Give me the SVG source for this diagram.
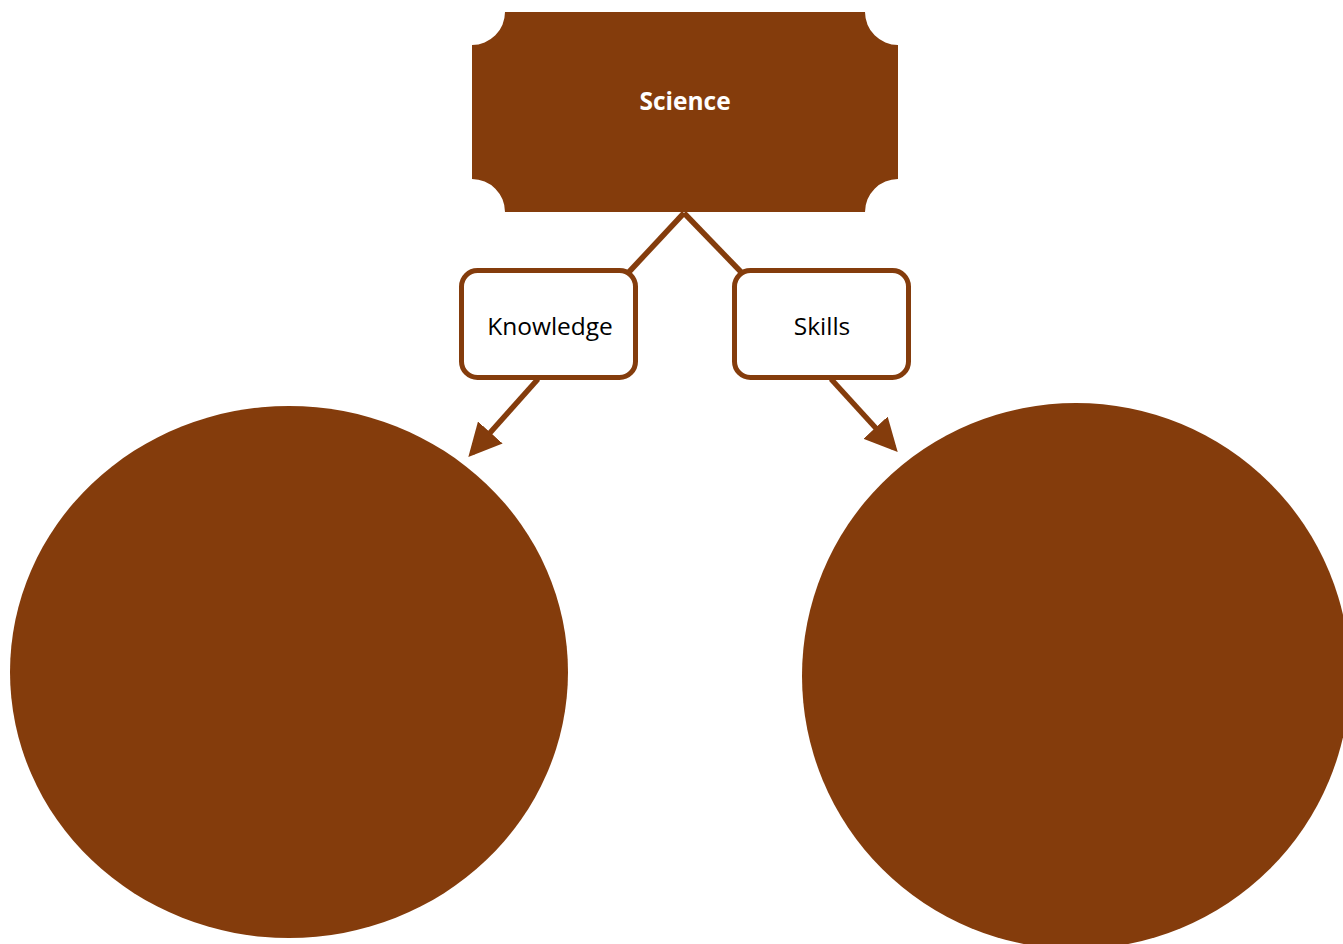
<svg xmlns="http://www.w3.org/2000/svg" width="1343" height="944" viewBox="0 0 1343 944">
<defs>
<style>
.fill{fill:#843C0C}
.box{fill:#fff;stroke:#843C0C;stroke-width:5}
.conn{stroke:#843C0C;stroke-width:5.5;fill:none}
.lbl{font-family:"Open Sans","Liberation Sans",sans-serif;font-size:24.5px;text-anchor:middle}
</style>
<marker id="arr" markerWidth="6" markerHeight="6" refX="5" refY="3" orient="auto" markerUnits="strokeWidth">
<path d="M0,0 L6,3 L0,6 Z" fill="#843C0C"/>
</marker>
</defs>
<rect width="1343" height="944" fill="#fff"/>
<g id="connectors">
<line class="conn" x1="684" y1="213" x2="628" y2="273"/>
<line class="conn" x1="684" y1="213" x2="742" y2="273"/>
<line class="conn" x1="538" y1="379" x2="472" y2="453" marker-end="url(#arr)"/>
<line class="conn" x1="831" y1="379" x2="894" y2="448" marker-end="url(#arr)"/>
</g>
<g id="science">
<path class="fill" d="M505,12 H865 A33,33 0 0 0 898,45 V179 A33,33 0 0 0 865,212 H505 A33,33 0 0 0 472,179 V45 A33,33 0 0 0 505,12 Z"/>
<text class="lbl" x="685" y="110" fill="#fff" font-weight="bold" font-size="23.5px">Science</text>
</g>
<g id="knowledge">
<rect class="box" x="461.5" y="270.5" width="174" height="107" rx="16"/>
<text class="lbl" x="550" y="335" fill="#000">Knowledge</text>
</g>
<g id="skills">
<rect class="box" x="734.5" y="270.5" width="174" height="107" rx="16"/>
<text class="lbl" x="822" y="335" fill="#000">Skills</text>
</g>
<g id="circle-left">
<ellipse class="fill" cx="289" cy="672" rx="279" ry="266"/>
</g>
<g id="circle-right">
<ellipse class="fill" cx="1076" cy="676" rx="274" ry="273"/>
</g>
</svg>
